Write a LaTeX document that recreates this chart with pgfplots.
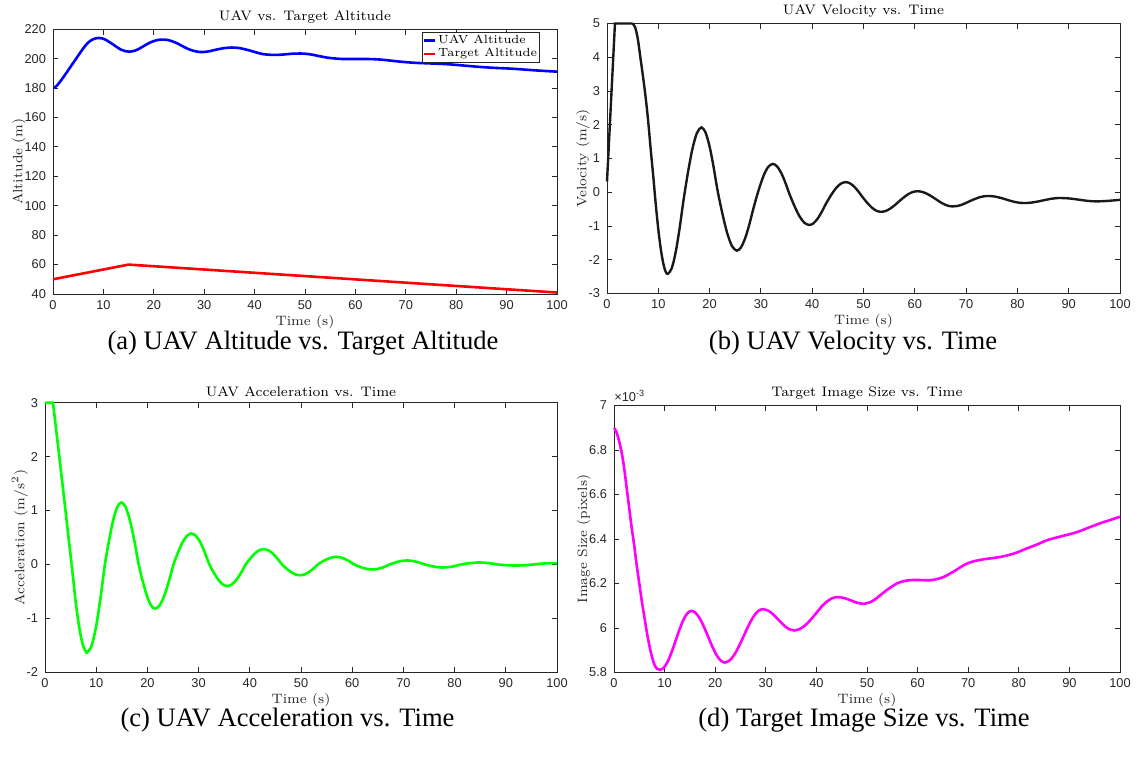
\documentclass[border=0pt]{standalone}
\usepackage{fontspec}
\usepackage{pgfplots}
\pgfplotsset{compat=1.18}
\newfontfamily\ticksans{Liberation Sans}
\newfontfamily\capserif{Liberation Serif}
\definecolor{axgray}{gray}{0.15}
\definecolor{mag}{RGB}{255,0,255}
\definecolor{grn}{RGB}{0,255,0}
\pgfplotsset{
  mystyle/.style={
    scale only axis,
    anchor=south west,
    axis line style={axgray, line width=0.5pt},
    tick style={axgray, line width=0.5pt},
    major tick length=2.6pt,
    tick align=inside,
    xmin=0, xmax=100, xtick={0,10,...,100},
    ticklabel style={font=\fontsize{6.4}{7}\selectfont\ticksans, text=axgray},
    /pgf/number format/assume math mode=true,
    title style={font=\fontsize{6.9}{8}\selectfont, yshift=-6.5pt},
    label style={font=\fontsize{6.8}{8}\selectfont, text=axgray},
    xlabel={Time (s)},
    xlabel style={yshift=4pt},
    ylabel style={yshift=-7.5pt},
    xticklabel style={yshift=0.5pt},
  }
}
\begin{document}
\begin{tikzpicture}
\useasboundingbox (0,0) rectangle (570pt,378.5pt);
% (a)
\begin{axis}[mystyle, at={(26.5pt,231.5pt)}, width=252pt, height=132.35pt,
  ymin=40, ymax=220, ytick={40,60,...,220},
  title={UAV vs. Target Altitude}, ylabel={Altitude (m)},
  legend style={at={(0.966,0.99)}, anchor=north east, font=\fontsize{5.9}{7}\selectfont,
    draw=axgray, line width=0.4pt, inner sep=0.4pt, row sep=-0.5pt,
    nodes={inner sep=0.8pt}, cells={anchor=west}},
  legend image code/.code={\draw[#1] (0pt,0pt) -- (5.5pt,0pt);}]
\addplot[blue, line width=1.3pt, smooth] coordinates {
(0,180.2) (0.4,180.6) (0.8,181.8) (1.5,184.8) (2.5,189.6) (3.5,194.6) (4.5,199.6) (5.5,204.6)
(6.3,208.4) (7.0,211.0) (7.7,212.8) (8.4,213.8) (9.1,214.1) (9.8,213.8) (10.5,212.8) (11.2,211.3)
(12.0,209.5) (12.8,207.6) (13.6,206.0) (14.4,205.1) (15.2,204.8) (16.0,205.2) (16.8,206.3)
(17.6,207.8) (18.4,209.4) (19.2,210.9) (20.0,212.0) (20.9,212.8) (21.9,213.0) (22.8,212.7)
(23.7,211.8) (24.6,210.5) (25.5,208.9) (26.4,207.3) (27.3,206.0) (28.2,205.1) (29.1,204.6)
(30.0,204.6) (30.9,205.0) (31.8,205.7) (32.7,206.4) (33.6,207.0) (34.5,207.4) (35.4,207.6)
(36.3,207.5) (37.2,207.1) (38.1,206.4) (39.0,205.6) (39.9,204.7) (40.8,203.8) (41.7,203.1)
(42.6,202.8) (43.5,202.6) (44.5,202.6) (45.5,202.8) (46.5,203.1) (47.5,203.4) (48.5,203.5)
(49.5,203.5) (50.5,203.2) (51.5,202.7) (52.5,202.0) (53.5,201.3) (54.5,200.7) (55.5,200.3)
(56.5,200.0) (57.5,199.8) (59,199.8) (60.5,199.8) (62,199.8) (63.5,199.7) (65,199.4)
(66.5,198.9) (68,198.3) (69.5,197.8) (71,197.4) (72.5,197.1) (74,196.9) (75.5,196.7)
(77,196.5) (78.5,196.2) (80,195.8) (82,195.2) (84,194.6) (86,194.1) (88,193.7) (90,193.4)
(92,193.0) (94,192.5) (96,192.0) (98,191.6) (100,191.2)};
\addlegendentry{UAV Altitude}
\addplot[red, line width=1.3pt] coordinates {(0,50) (15,60) (100,41)};
\addlegendentry{Target Altitude}
\end{axis}
% (b)
\begin{axis}[mystyle, at={(303.5pt,231.75pt)}, width=256.5pt, height=135pt,
  ymin=-3, ymax=5, ytick={-3,-2,...,5}, clip=false,
  title={UAV Velocity vs. Time}, ylabel={Velocity (m/s)}]
\addplot[black!90, line width=1.2pt] coordinates {
(0,0.32) (1.55,5) (5.0,5)};
\addplot[black!90, line width=1.2pt, smooth] coordinates {
(5.0,5) (5.5,4.88) (6.0,4.55) (6.5,4.0) (7.0,3.45) (7.5,2.85) (8.0,2.15) (8.5,1.3)
(9.0,0.5) (9.5,-0.35) (10.0,-1.1) (10.5,-1.7) (11.0,-2.13) (11.45,-2.36) (11.85,-2.42)
(12.61,-2.255) (13.375,-1.784) (14.14,-1.081) (14.9,-0.25) (15.775,0.581) (16.65,1.284)
(17.525,1.755) (18.4,1.92) (19.175,1.781) (19.95,1.385) (20.725,0.794) (21.5,0.095)
(22.45,-0.604) (23.4,-1.195) (24.35,-1.591) (25.3,-1.73) (26.125,-1.632) (26.95,-1.354)
(27.775,-0.937) (28.6,-0.445) (29.525,0.047) (30.45,0.464) (31.375,0.742) (32.3,0.84)
(33.125,0.771) (33.95,0.575) (34.775,0.281) (35.6,-0.065) (36.55,-0.411) (37.5,-0.705)
(38.45,-0.901) (39.4,-0.97) (40.225,-0.922) (41.05,-0.784) (41.875,-0.578) (42.7,-0.335)
(43.65,-0.092) (44.6,0.114) (45.55,0.252) (46.5,0.30) (47.325,0.267) (48.15,0.171)
(48.975,0.028) (49.8,-0.14) (50.7,-0.308) (51.6,-0.451) (52.5,-0.547) (53.4,-0.58)
(54.275,-0.557) (55.15,-0.491) (56.025,-0.392) (56.9,-0.275) (57.8,-0.158) (58.7,-0.059)
(59.6,0.007) (60.5,0.03) (61.375,0.013) (62.25,-0.036) (63.125,-0.109) (64.0,-0.195)
(64.85,-0.281) (65.7,-0.354) (66.55,-0.403) (67.4,-0.42) (68.225,-0.408) (69.05,-0.375)
(69.875,-0.324) (70.7,-0.265) (71.6,-0.206) (72.5,-0.155) (73.4,-0.122) (74.3,-0.11)
(75.175,-0.118) (76.05,-0.141) (76.925,-0.175) (77.8,-0.215) (78.675,-0.255) (79.55,-0.289)
(80.425,-0.312) (81.3,-0.32) (82.2,-0.314) (83.1,-0.298) (84.0,-0.274) (84.9,-0.245)
(85.8,-0.216) (86.65,-0.192) (87.5,-0.176) (88.4,-0.17) (90.2,-0.185) (92.0,-0.22)
(93.65,-0.255) (95.3,-0.27) (97.0,-0.262) (98.5,-0.245) (100,-0.225)};
\end{axis}
% (c)
\begin{axis}[mystyle, at={(22.5pt,42.35pt)}, width=256pt, height=134.8pt,
  ymin=-2, ymax=3, ytick={-2,-1,...,3}, clip=false,
  title={UAV Acceleration vs. Time}, ylabel={Acceleration (m/s$^2$)}]
\addplot[grn, line width=1.3pt] coordinates {(0,3) (1.56,3) (2.8,2) (4.0,1) (5.2,0)};
\addplot[grn, line width=1.3pt, smooth] coordinates {
(5.2,0) (5.6,-0.35) (6.0,-0.7) (6.5,-1.05) (7.0,-1.33) (7.5,-1.52) (8.0,-1.62) (8.25,-1.63)
(9.11,-1.506) (9.975,-1.153) (10.84,-0.624) (11.7,0) (12.5,0.44) (13.3,0.813) (14.1,1.063)
(14.9,1.15) (15.75,1.063) (16.6,0.813) (17.45,0.44) (18.3,0) (19.1,-0.314) (19.9,-0.58)
(20.7,-0.758) (21.5,-0.82) (22.4,-0.758) (23.3,-0.58) (24.2,-0.314) (25.1,0) (25.975,0.22)
(26.85,0.407) (27.725,0.531) (28.6,0.575) (29.475,0.531) (30.35,0.407) (31.225,0.22)
(32.1,0) (32.975,-0.153) (33.85,-0.283) (34.725,-0.37) (35.6,-0.40) (36.5,-0.37)
(37.4,-0.283) (38.3,-0.153) (39.2,0) (40.075,0.109) (40.95,0.2015) (41.825,0.263)
(42.7,0.285) (43.6,0.263) (44.5,0.2015) (45.4,0.109) (46.3,0) (47.175,-0.077) (48.05,-0.141)
(48.925,-0.185) (49.8,-0.20) (50.675,-0.185) (51.55,-0.141) (52.425,-0.077) (53.3,0)
(54.2,0.054) (55.1,0.099) (56.0,0.129) (56.9,0.14) (57.775,0.129) (58.65,0.099)
(59.525,0.054) (60.4,0) (61.3,-0.036) (62.2,-0.066) (63.1,-0.086) (64.0,-0.093)
(64.825,-0.086) (65.65,-0.066) (66.475,-0.036) (67.3,0) (68.15,0.028) (69.0,0.052)
(69.85,0.068) (70.7,0.074) (71.575,0.068) (72.45,0.052) (73.325,0.028) (74.2,0)
(75.1,-0.021) (76.0,-0.04) (76.9,-0.052) (77.8,-0.056) (79.55,-0.04) (81.3,0)
(83.1,0.026) (84.9,0.037) (86.65,0.026) (88.4,0) (90.2,-0.014) (92.0,-0.02) (93.75,-0.014)
(95.5,0) (97.3,0.017) (99.0,0.024) (100,0.023)};
\end{axis}
% (d)
\begin{axis}[mystyle, at={(307pt,42.25pt)}, width=253pt, height=133.5pt,
  ymin=5.8, ymax=7, ytick={5.8,6,6.2,6.4,6.6,6.8,7}, clip=false,
  title={Target Image Size vs. Time}, ylabel={Image Size (pixels)}]
\addplot[mag, line width=1.3pt, smooth] coordinates {
(0,6.90) (0.5,6.88) (1.0,6.84) (1.5,6.79) (2.0,6.72) (2.5,6.63) (3.0,6.54) (3.5,6.45)
(4.0,6.37) (4.5,6.28) (5.0,6.20) (5.5,6.12) (6.0,6.05) (6.5,5.98) (7.0,5.92) (7.5,5.87)
(8.0,5.835) (8.5,5.817) (9.1,5.812) (9.875,5.822) (10.65,5.851) (11.425,5.894) (12.2,5.9445)
(12.975,5.995) (13.75,6.038) (14.525,6.067) (15.3,6.077) (16.125,6.068) (16.95,6.043)
(17.775,6.005) (18.6,5.961) (19.425,5.917) (20.25,5.879) (21.075,5.854) (21.9,5.845)
(22.84,5.854) (23.78,5.88) (24.71,5.919) (25.65,5.965) (26.59,6.011) (27.53,6.05)
(28.46,6.076) (29.4,6.085) (30.175,6.081) (30.95,6.071) (31.725,6.055) (32.5,6.037)
(33.275,6.019) (34.05,6.003) (34.825,5.993) (35.6,5.989) (36.66,5.995) (37.73,6.011)
(38.79,6.035) (39.85,6.064) (40.91,6.093) (41.98,6.117) (43.04,6.133) (44.1,6.139)
(45.45,6.135) (46.8,6.124) (48.15,6.113) (49.5,6.109) (51,6.12) (52.5,6.145) (54,6.172)
(55.9,6.20) (57.5,6.212) (59.5,6.216) (61,6.215) (62.7,6.215) (64,6.221) (65.2,6.23)
(67,6.252) (69.5,6.287) (71.3,6.301) (73.1,6.309) (76.0,6.318) (78,6.328) (79.6,6.339)
(81.5,6.357) (83.9,6.378) (85.5,6.394) (87.5,6.407) (90.3,6.423) (92,6.435) (93.9,6.452)
(96,6.47) (98,6.485) (100,6.5)};
\node[anchor=south west, inner sep=0pt, font=\fontsize{6.4}{7}\selectfont\ticksans, text=axgray]
  at (rel axis cs:0,1) [yshift=1.5pt] {×10\textsuperscript{-3}};
\end{axis}
% captions
\node[anchor=base, font=\fontsize{13.3}{15}\selectfont\capserif] at (151.5pt,204pt) {(a) UAV Altitude vs. Target Altitude};
\node[anchor=base, font=\fontsize{13.3}{15}\selectfont\capserif] at (426.5pt,204pt) {(b) UAV Velocity vs. Time};
\node[anchor=base, font=\fontsize{13.3}{15}\selectfont\capserif] at (143.75pt,15.5pt) {(c) UAV Acceleration vs. Time};
\node[anchor=base, font=\fontsize{13.3}{15}\selectfont\capserif] at (432pt,15.5pt) {(d) Target Image Size vs. Time};
\end{tikzpicture}
\end{document}
